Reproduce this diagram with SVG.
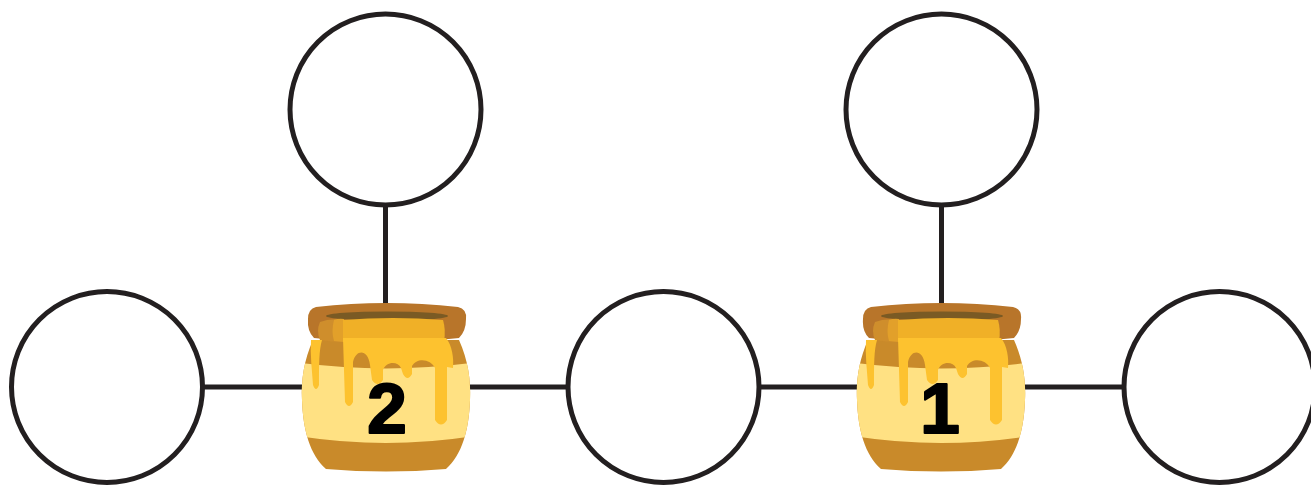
<svg xmlns="http://www.w3.org/2000/svg" xmlns:xlink="http://www.w3.org/1999/xlink" width="1311" height="485" viewBox="0 0 1311 485">
<style>
.node{fill:#ffffff;stroke:#231f20;stroke-width:5}
.conn{stroke:#231f20;stroke-width:5;fill:none}
.num{font-family:"Liberation Sans",Arial,sans-serif;font-weight:bold;font-size:71px;fill:#000000;stroke:#000000;stroke-width:2.2;stroke-linejoin:round;text-anchor:middle}
</style>
<defs>
<clipPath id="bodyClip">
<path d="M -73 340 C -82 360 -85 380 -84 400 C -83 430 -76 455 -60 469 Q 0 474 60 469 C 76 455 83 430 84 400 C 85 380 82 360 73 340 Z"/>
</clipPath>
<g id="pot">
<path d="M -73 340 C -82 360 -85 380 -84 400 C -83 430 -76 455 -60 469 Q 0 474 60 469 C 76 455 83 430 84 400 C 85 380 82 360 73 340 Z" fill="#c98a2a"/>
<path clip-path="url(#bodyClip)" d="M -100 361 Q 0 376 100 361 L 100 434 Q 0 452 -100 434 Z" fill="#ffe183"/>
<path d="M -70 307 Q 0 299 72 307 Q 81 309 80 319 Q 80 331 73 338 Q 0 346 -72 338 Q -79 331 -78 319 Q -78 309 -70 307 Z" fill="#b8752a"/>
<ellipse cx="1" cy="316" rx="61" ry="4.5" fill="#7a5a24"/>
<path d="M -66 322 Q -56 318 -43 320 L -43 342 Q -55 342 -66 340 Q -70 331 -66 322 Z" fill="#cf8e2c"/>
<path d="M -52 320 Q -47 318 -42 319 L -42 342 L -52 341 Q -55 331 -52 320 Z" fill="#e2a02a"/>
<path d="M -43 320 Q 7 316 57 320 Q 60 330 58 341 Q 7 346 -43 342 Z" fill="#f0b027"/>
<path d="M -43 338 L 60 338 C 66 345 68 358 67 368 L 61 367 L 61 420 Q 55 429 49 420 L 49 368 C 45 359 31 357 26 366 L 26 374 Q 21.5 382 17 374 L 15 368 C 12 361 0 361 -3 370 L -3 380 Q -8.5 388 -14 380 L -16 365 C -18 349 -30 349 -33 362 L -33 402 Q -37 410 -41 402 Z" fill="#fdc22f"/>
<path d="M -75 340 L -64 340 C -67 350 -67 365 -67 385 Q -70 393 -73 385 C -74 370 -76 355 -75 340 Z" fill="#fdc22f"/>
</g>
</defs>
<g id="connectors">
<line class="conn" x1="107" y1="387" x2="1219" y2="387"/>
<line class="conn" x1="385.5" y1="205" x2="385.5" y2="310"/>
<line class="conn" x1="941.5" y1="205" x2="941.5" y2="310"/>
</g>
<g id="node-top-left"><circle class="node" cx="385.5" cy="109.5" r="95.5"/></g>
<g id="node-top-right"><circle class="node" cx="941.5" cy="109.5" r="95.5"/></g>
<g id="node-bottom-left"><circle class="node" cx="107" cy="387" r="95.5"/></g>
<g id="node-bottom-middle"><circle class="node" cx="663.5" cy="387" r="95.5"/></g>
<g id="node-bottom-right"><circle class="node" cx="1219.5" cy="387" r="95.5"/></g>
<g id="pot-2" transform="translate(386,0)">
<use xlink:href="#pot" href="#pot"/>
<text class="num" x="1" y="433">2</text>
</g>
<g id="pot-1" transform="translate(941,0)">
<use xlink:href="#pot" href="#pot"/>
<text class="num" x="-1" y="433">1</text>
</g>
</svg>
